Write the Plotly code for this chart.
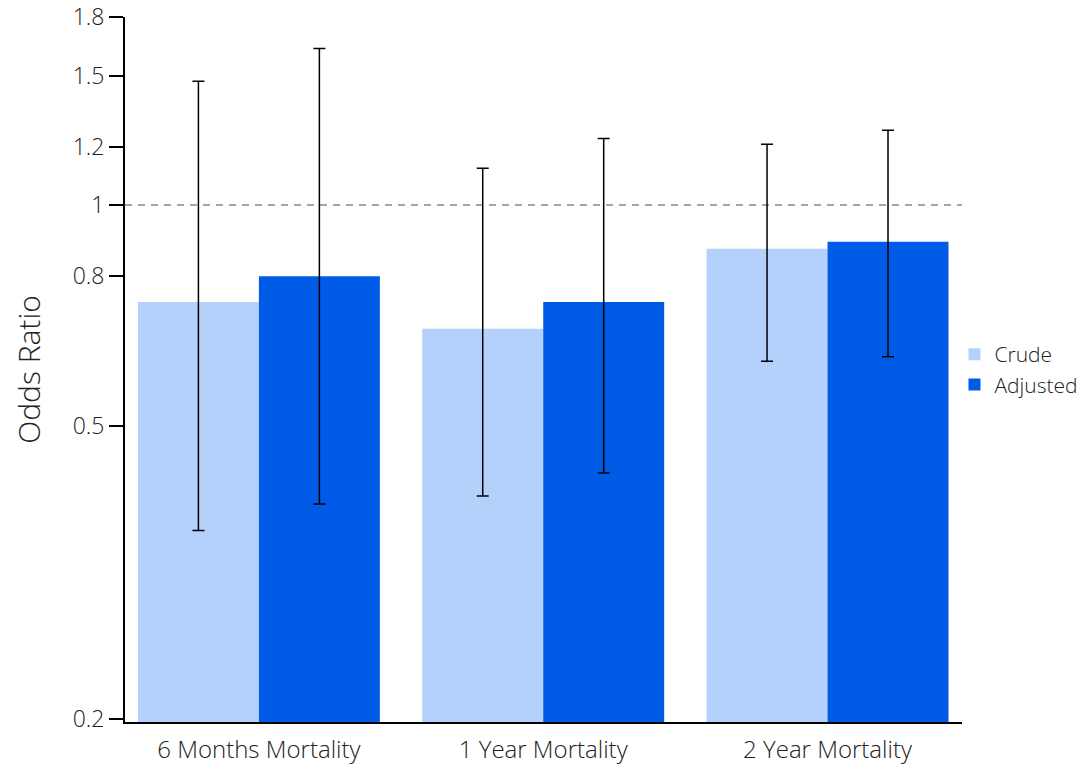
import plotly.graph_objects as go

categories = ["6 Months Mortality", "1 Year Mortality", "2 Year Mortality"]
crude = [0.738, 0.679, 0.872]
crude_low = [0.361, 0.402, 0.613]
crude_high = [1.473, 1.122, 1.21]
adjusted = [0.800, 0.738, 0.891]
adj_low = [0.392, 0.432, 0.622]
adj_high = [1.632, 1.232, 1.264]
tick_vals = [0.2, 0.5, 0.8, 1, 1.2, 1.5, 1.8]
tick_text = ["0.2", "0.5", "0.8", "1", "1.2", "1.5", "1.8"]

FONT = "Open Sans"

def err(vals, lo, hi):
    return dict(type="data", symmetric=False,
                array=[h - v for v, h in zip(vals, hi)],
                arrayminus=[v - l for v, l in zip(vals, lo)],
                color="black", thickness=1.5, width=6)

fig = go.Figure()
fig.add_trace(go.Bar(name="Crude", x=categories, y=crude, marker_color="#b3d1fb",
                     marker_line_width=0, error_y=err(crude, crude_low, crude_high)))
fig.add_trace(go.Bar(name="Adjusted", x=categories, y=adjusted, marker_color="#005ce6",
                     marker_line_width=0, error_y=err(adjusted, adj_low, adj_high)))

fig.add_shape(type="line", xref="paper", x0=0, x1=1, yref="y", y0=1, y1=1,
              line=dict(color="#888888", width=1.3, dash="7px,6px"), layer="below")

fig.update_layout(
    width=1087, height=767,
    margin=dict(l=117, r=133, t=9, b=53, autoexpand=False),
    paper_bgcolor="white", plot_bgcolor="white",
    barmode="group", bargap=0.149, bargroupgap=0,
    font=dict(family=FONT, size=22, color="#222222", weight=300),
    legend=dict(x=0.991, y=0.5, xanchor="left", yanchor="middle",
                font=dict(size=21, family=FONT, weight=300, color="#222222"),
                tracegroupgap=0, itemwidth=30),
    xaxis=dict(range=[-0.471, 2.473], showline=True, linecolor="black", linewidth=2,
               ticks="", showgrid=False, zeroline=False, automargin=False,
               ticklabelstandoff=5,
               tickfont=dict(size=24, family=FONT, weight=300, color="#222222")),
    yaxis=dict(type="log", range=[-0.7031, 0.2557], tickvals=tick_vals, ticktext=tick_text,
               showline=True, linecolor="black", linewidth=2, ticks="outside",
               ticklen=14, tickwidth=2, tickcolor="black", showgrid=False, zeroline=False,
               automargin=False, ticklabeloverflow="allow",
               tickfont=dict(size=23, family=FONT, weight=300, color="#222222"),
               title=dict(text="Odds Ratio", font=dict(size=30, family=FONT, weight=300, color="#222222"),
                          standoff=28)),
)

fig.write_html("out.html")
